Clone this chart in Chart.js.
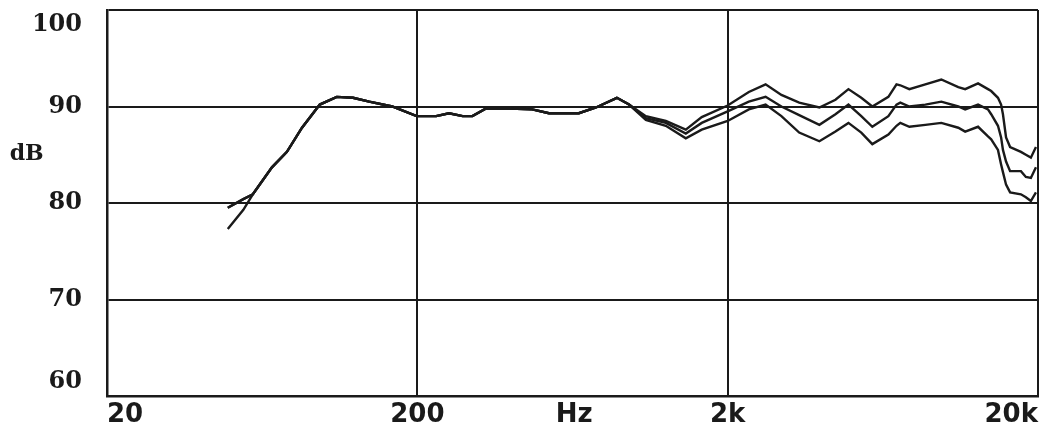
<!DOCTYPE html>
<html>
<head>
<meta charset="utf-8">
<script src="https://cdn.jsdelivr.net/npm/chart.js@4.4.1/dist/chart.umd.min.js"></script>
<style>
  html, body { margin: 0; padding: 0; background: #fff; }
  #wrap { width: 1047px; height: 432px; }
</style>
</head>
<body>
<div id="wrap"><canvas id="resp" width="1047" height="432"></canvas></div>
<script>
// frequencies (Hz) shared by the three curves
var freqs = [49, 55, 59, 68, 76, 85, 97, 110, 124, 140, 166, 199, 230, 253, 280, 301, 333, 395, 469, 531,
  663, 753, 879, 962, 1090, 1264, 1466, 1650, 2000, 2340, 2650, 2980, 3400, 3950, 4450, 4900, 5390, 5850,
  6590, 7000, 7200, 7700, 8670, 9760, 11070, 11650, 12820, 13800, 14130, 14860, 15210, 15420, 15780, 16260,
  17620, 18280, 18970, 19700];

// levels in dB
var upper = [79.5, 80.4, 80.9, 83.7, 85.3, 87.8, 90.2, 91.0, 90.9, 90.5, 90.0, 89.0, 89.0, 89.3, 89.0, 89.0, 89.8, 89.8, 89.7, 89.3,
  89.3, 89.9, 90.9, 90.2, 89.0, 88.5, 87.6, 88.9, 90.1, 91.5, 92.3, 91.2, 90.4, 89.9, 90.7, 91.8, 90.9, 90.0,
  91.0, 92.3, 92.2, 91.8, 92.3, 92.8, 92.0, 91.8, 92.4, 91.8, 91.6, 90.9, 90.2, 89.2, 86.8, 85.8,
  85.3, 85.0, 84.7, 85.8];
var middle = [79.5, 80.4, 80.9, 83.7, 85.3, 87.8, 90.2, 91.0, 90.9, 90.5, 90.0, 89.0, 89.0, 89.3, 89.0, 89.0, 89.8, 89.8, 89.7, 89.3,
  89.3, 89.9, 90.9, 90.2, 88.8, 88.3, 87.2, 88.3, 89.5, 90.5, 91.0, 90.0, 89.1, 88.1, 89.2, 90.2, 89.0, 87.9,
  89.0, 90.2, 90.4, 90.0, 90.2, 90.5, 90.0, 89.7, 90.2, 89.7, 89.2, 88.0, 86.8, 85.5, 84.3, 83.3,
  83.3, 82.7, 82.6, 83.7];
var lower = [77.3, 79.3, 80.9, 83.7, 85.3, 87.8, 90.2, 91.0, 90.9, 90.5, 90.0, 89.0, 89.0, 89.3, 89.0, 89.0, 89.8, 89.8, 89.7, 89.3,
  89.3, 89.9, 90.9, 90.2, 88.6, 88.0, 86.7, 87.6, 88.5, 89.7, 90.2, 89.0, 87.3, 86.4, 87.4, 88.3, 87.3, 86.1,
  87.1, 88.0, 88.3, 87.9, 88.1, 88.3, 87.8, 87.4, 87.9, 86.9, 86.6, 85.5, 84.0, 83.2, 81.9, 81.1,
  80.9, 80.6, 80.2, 81.1];

// axis ticks
var xTicks = [20, 200, 640, 2000, 20000];
var xLabels = ['20', '200', 'Hz', '2k', '20k'];
var yTicks = [60, 70, 80, 85, 90, 100];
var yLabels = ['60', '70', '80', 'dB', '90', '100'];

var ink = '#1a1a1a';

function series(vals) {
    return freqs.map(function (f, i) { return { x: f, y: vals[i] }; });
}

function lineSet(vals) {
    return {
        data: series(vals),
        borderColor: ink,
        borderWidth: 2.4,
        pointRadius: 0,
        tension: 0,
        fill: false
    };
}

var ctx = document.getElementById('resp').getContext('2d');
var chart = new Chart(ctx, {
    type: 'line',
    data: {
        datasets: [lineSet(upper), lineSet(middle), lineSet(lower)]
    },
    options: {
        responsive: false,
        animation: false,
        layout: { padding: { top: 10, right: 9, left: 0, bottom: 0 } },
        plugins: { legend: { display: false }, tooltip: { enabled: false } },
        scales: {
            x: {
                type: 'logarithmic',
                min: 20,
                max: 20000,
                afterBuildTicks: function (scale) {
                    scale.ticks = xTicks.map(function (v) { return { value: v }; });
                },
                afterFit: function (scale) {
                    scale.height = 36;
                    scale.paddingLeft = 0;
                    scale.paddingRight = 0;
                },
                grid: {
                    drawTicks: false,
                    color: function (c) { return c.tick && c.tick.value === 640 ? 'rgba(0,0,0,0)' : ink; },
                    lineWidth: 2
                },
                border: { display: true, color: ink, width: 2.5 },
                ticks: {
                    autoSkip: false,
                    maxRotation: 0,
                    align: 'inner',
                    padding: 4,
                    color: ink,
                    font: { family: 'DejaVu Sans', weight: 'bold', size: 26 },
                    callback: function (value) {
                        var i = xTicks.indexOf(value);
                        return i >= 0 ? xLabels[i] : '';
                    }
                }
            },
            y: {
                type: 'linear',
                min: 60,
                max: 100,
                afterBuildTicks: function (scale) {
                    scale.ticks = yTicks.map(function (v) { return { value: v }; });
                },
                afterFit: function (scale) {
                    scale.width = 107;
                    scale.paddingTop = 0;
                    scale.paddingBottom = 0;
                },
                grid: {
                    drawTicks: false,
                    color: function (c) { return c.tick && c.tick.value === 85 ? 'rgba(0,0,0,0)' : ink; },
                    lineWidth: 2
                },
                border: { display: true, color: ink, width: 2.5 },
                ticks: {
                    autoSkip: false,
                    padding: 25,
                    color: ink,
                    font: function (c) {
                        if (c.tick && c.tick.value === 85) {
                            return { family: 'DejaVu Serif', weight: 'bold', size: 22 };
                        }
                        return { family: 'DejaVu Serif', weight: 'bold', size: 24 };
                    },
                    callback: function (value) {
                        var i = yTicks.indexOf(value);
                        var t = i >= 0 ? yLabels[i] : '';
                        // edge labels sit inside the frame like the original
                        if (value === 100) return ['', t];
                        if (value === 60) return [t, ''];
                        if (value === 85) return t + '     ';
                        return t;
                    }
                }
            }
        }
    }
});
</script>
</body>
</html>
